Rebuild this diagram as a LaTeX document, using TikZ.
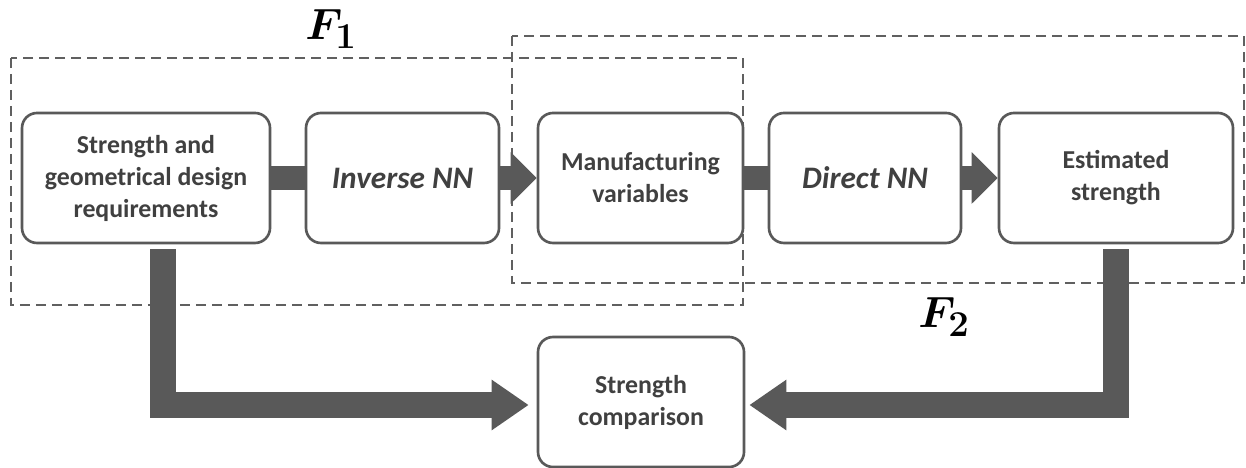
\documentclass[tikz,border=0pt]{standalone}
\usepackage{fontspec}
\setmainfont{Carlito}
\usepackage{bm}
\usetikzlibrary{arrows.meta,backgrounds}
\definecolor{boxgray}{HTML}{595959}
\definecolor{textgray}{HTML}{404040}
\definecolor{dashgray}{HTML}{606060}
\tikzset{
  block/.style = {
    draw=boxgray, line width=1.5pt, rounded corners=0.3cm,
    fill=white, text=textgray, align=center,
    minimum height=2.6cm, inner sep=0pt,
    font=\fontsize{14.7}{18.2}\selectfont\bfseries
  },
  nnblock/.style = {block, font=\fontsize{17.8}{21}\selectfont\bfseries\itshape},
  fatarrow/.style = {
    draw=boxgray, line width=0.48cm,
    -{Triangle[width=1cm,length=0.52cm]}
  },
  sidearrow/.style = {
    draw=boxgray, line width=0.52cm,
    -{Triangle[width=0.96cm,length=0.74cm]}
  },
  group/.style = {draw=dashgray, line width=0.9pt, dash pattern=on 0.2cm off 0.12cm},
  flabel/.style = {font=\Huge}
}

\begin{document}
\begin{tikzpicture}
  \useasboundingbox (0,0) rectangle (24.92,-9.36);
  %
  \node[block, minimum width=4.96cm] (req) at (2.92,-3.56)
    {Strength and\\geometrical design\\requirements};
  \node[nnblock, minimum width=3.86cm] (inv) at (8.05,-3.56) {Inverse NN};
  \node[block, minimum width=4.10cm] (manu) at (12.81,-3.56) {Manufacturing\\variables};
  \node[nnblock, minimum width=3.84cm] (dir) at (17.30,-3.56) {Direct NN};
  \node[block, minimum width=4.68cm] (est) at (22.32,-3.56) {Estimated\\strength};
  \node[block, minimum width=4.12cm] (comp) at (12.82,-8.04) {Strength\\comparison};
  %
  \node[flabel] (f1) at (6.62,-0.58) {$\bm{F}_{\bm{1}}$};
  \node[flabel] (f2) at (18.88,-6.34) {$\bm{F}_{\bm{2}}$};
  %
  \begin{scope}[on background layer]
    \draw[group] (0.22,-1.16) rectangle (14.86,-6.10);
    \draw[group] (10.24,-0.72) rectangle (24.88,-5.66);
    %
    \draw[fatarrow] (req.east) to (manu.west);
    \draw[fatarrow] (manu.east) to (est.west);
    %
    \draw[sidearrow] ([xshift=0.33cm,yshift=-0.1cm]req.south)
      |- ([xshift=-0.16cm,yshift=-0.06cm]comp.west);
    \draw[sidearrow] ([yshift=-0.1cm]est.south)
      |- ([xshift=0.08cm,yshift=-0.06cm]comp.east);
  \end{scope}
\end{tikzpicture}
\end{document}
